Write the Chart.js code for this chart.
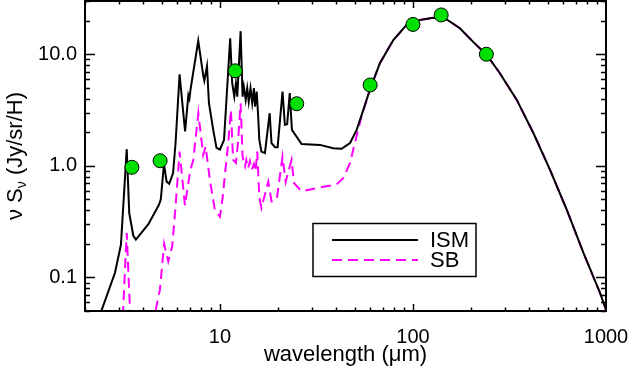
<!DOCTYPE html>
<html>
<head>
<meta charset="utf-8">
<script src="https://cdn.jsdelivr.net/npm/chart.js@4.4.1/dist/chart.umd.min.js"></script>
<style>
  html, body { margin: 0; padding: 0; background: #fff; }
</style>
</head>
<body>
<canvas id="sed" width="632" height="369"></canvas>
<script>
// spectre ISM (trait noir)
const ismWave = [2.42, 2.86, 3.07, 3.29, 3.39, 3.56, 3.67, 4.26, 4.83, 4.94, 5.13, 5.29, 5.46, 5.72, 5.89, 6.18, 6.6,
  6.86, 6.95, 7.05, 7.72, 8.19, 8.3, 8.57, 8.77, 9.23, 9.6, 10.0, 10.5, 11.3, 11.58, 11.87, 12.1, 12.3, 12.8,
  13.1, 13.3, 13.6, 13.85, 14.1, 14.4, 14.7, 15.0, 15.2, 15.5, 15.75, 16.0, 16.4, 17.1, 18.1, 18.5, 19.3, 19.9,
  21.1, 21.7, 22.3, 23.0, 23.6, 26.5, 33, 38.6, 42.7, 47.2, 51.1, 55.3, 59.8, 67.4, 79.1, 92.7, 108.7, 127,
  149.5, 175, 205, 241, 282, 345, 421, 513, 626, 764, 931, 1000];
const ismFlux = [0.049, 0.11, 0.196, 1.41, 0.377, 0.236, 0.218, 0.30, 0.448, 0.50, 1.04, 0.724, 0.69, 0.86, 1.60, 6.6, 2.03,
  4.3, 4.0, 4.9, 13.2, 6.5, 5.8, 7.85, 3.66, 2.1, 1.45, 1.40, 1.7, 13.9, 5.5, 4.17, 5.5, 4.17, 16.1,
  4.17, 5.12, 3.9, 4.96, 3.76, 4.96, 3.64, 4.96, 3.4, 4.62, 2.96, 1.71, 1.34, 1.30, 2.96, 1.60, 1.47, 1.47,
  4.62, 2.33, 2.36, 4.48, 2.10, 1.57, 1.54, 1.44, 1.42, 1.60, 2.10, 3.17, 4.79, 8.30, 13.4, 18.3, 20.3, 21.2,
  20.5, 17.1, 12.9, 9.84, 6.76, 3.90, 1.96, 0.921, 0.404, 0.166, 0.0726, 0.0514];

// spectre SB (tirets magenta)
const sbWave = [3.14, 3.29, 3.43, 4.0, 4.58, 4.89, 5.14, 5.40, 5.66, 5.89, 6.18, 6.59, 7.0, 7.28, 7.73, 8.19, 8.43,
  8.87, 9.42, 10.0, 10.3, 11.04, 11.4, 11.7, 12.1, 12.4, 12.8, 13.1, 13.5, 13.7, 14.0, 14.3, 14.6, 15.0, 15.3,
  15.6, 16.0, 16.4, 17.8, 18.5, 19.7, 21.1, 21.9, 23.5, 24.2, 26.5, 33, 40.2, 43.6, 47.2, 50, 54.1, 59.8,
  67.4, 79.1, 92.7, 108.7, 127, 149.5, 175, 205, 241, 282, 345, 421, 513, 626, 764, 931, 1000];
const sbFlux = [0.045, 0.25, 0.045, 0.01, 0.045, 0.078, 0.20, 0.139, 0.19, 0.43, 1.34, 0.44, 0.89, 1.13, 2.96, 1.25, 1.49,
  0.75, 0.40, 0.35, 0.50, 1.60, 3.17, 1.13, 1.06, 1.60, 3.64, 1.21, 0.99, 1.13, 0.95, 1.10, 0.92, 1.04, 0.89,
  1.34, 0.53, 0.42, 0.72, 0.48, 0.50, 1.21, 0.72, 1.13, 0.70, 0.59, 0.64, 0.68, 0.78, 1.06, 1.60, 2.76, 4.79,
  8.30, 13.4, 18.3, 20.3, 21.2, 20.5, 17.1, 12.9, 9.84, 6.76, 3.90, 1.96, 0.921, 0.404, 0.166, 0.0726, 0.0514];

// photometrie (ronds verts)
const obsWave = [3.5, 4.9, 12, 25, 60, 100, 140, 240];
const obsFlux = [0.97, 1.11, 7.1, 3.6, 5.3, 18.5, 22.5, 10.0];

const xMajor = [10, 100, 1000];
const yMajor = [0.1, 1, 10];
const legendNames = ['ISM', 'SB'];

const FONT = "'Liberation Sans', Arial, Helvetica, sans-serif";

function toPoints(xs, ys) {
  return xs.map((v, i) => ({x: v, y: ys[i]}));
}

// petites graduations entre les decades
function minorTicks(lo, hi) {
  let res = [];
  for (let d = Math.pow(10, Math.floor(Math.log10(lo))); d < hi; d *= 10) {
    for (let k = 1; k < 10; k++) {
      let v = +(k * d).toPrecision(3);
      if (v >= lo && v <= hi) res.push(v);
    }
  }
  return res;
}

// cadre + graduations vers l'interieur, legende et titre vertical
const idlFrame = {
  id: 'idlFrame',
  afterDatasetsDraw(chart) {
    const {ctx, chartArea: a, scales: {x, y}} = chart;
    ctx.save();
    ctx.strokeStyle = '#000';
    ctx.lineWidth = 1.5;
    ctx.beginPath();
    minorTicks(2, 1000).forEach(v => {
      const px = Math.round(x.getPixelForValue(v)) + 0.5;
      const len = xMajor.includes(v) ? 7 : 3.5;
      ctx.moveTo(px, a.bottom); ctx.lineTo(px, a.bottom - len);
      ctx.moveTo(px, a.top); ctx.lineTo(px, a.top + len);
    });
    minorTicks(0.05, 30).forEach(v => {
      const py = Math.round(y.getPixelForValue(v)) + 0.5;
      const len = yMajor.includes(v) ? 10 : 5;
      ctx.moveTo(a.left, py); ctx.lineTo(a.left + len, py);
      ctx.moveTo(a.right, py); ctx.lineTo(a.right - len, py);
    });
    ctx.stroke();
    ctx.lineWidth = 2;
    ctx.strokeRect(a.left, a.top, a.right - a.left, a.bottom - a.top);

    // legende
    ctx.lineWidth = 1.5;
    ctx.strokeRect(313, 223.5, 163, 53);
    const rows = [240, 260];
    legendNames.forEach((name, i) => {
      const ds = chart.data.datasets[i + 1];
      ctx.strokeStyle = ds.borderColor;
      ctx.lineWidth = ds.borderWidth;
      ctx.setLineDash(ds.borderDash || []);
      ctx.beginPath();
      ctx.moveTo(332, rows[i]);
      ctx.lineTo(418, rows[i]);
      ctx.stroke();
      ctx.setLineDash([]);
      ctx.fillStyle = '#000';
      ctx.font = '22px ' + FONT;
      ctx.textBaseline = 'alphabetic';
      ctx.fillText(name, 430, rows[i] + 7);
    });

    // titre de l'axe y avec indice
    const parts = [
      {t: 'ν S', f: '22px ' + FONT, dy: 0},
      {t: 'ν', f: '14px ' + FONT, dy: 4},
      {t: ' (Jy/sr/H)', f: '22px ' + FONT, dy: 0},
    ];
    let w = 0;
    parts.forEach(p => { ctx.font = p.f; p.w = ctx.measureText(p.t).width; w += p.w; });
    ctx.translate(22, (a.top + a.bottom) / 2);
    ctx.rotate(-Math.PI / 2);
    let cx = -w / 2;
    parts.forEach(p => {
      ctx.font = p.f;
      ctx.fillText(p.t, cx, p.dy);
      cx += p.w;
    });
    ctx.restore();
  }
};

new Chart(document.getElementById('sed'), {
  type: 'line',
  data: {
    datasets: [
      {
        label: 'obs',
        data: toPoints(obsWave, obsFlux),
        showLine: false,
        pointRadius: 7,
        pointBackgroundColor: '#00e000',
        pointBorderColor: '#000',
        pointBorderWidth: 1,
      },
      {
        label: legendNames[0],
        data: toPoints(ismWave, ismFlux),
        borderColor: '#000',
        borderWidth: 2,
        pointRadius: 0,
        tension: 0,
      },
      {
        label: legendNames[1],
        data: toPoints(sbWave, sbFlux),
        borderColor: '#ff00ff',
        borderWidth: 2,
        borderDash: [10, 6],
        pointRadius: 0,
        tension: 0,
      },
    ]
  },
  options: {
    responsive: false,
    animation: false,
    devicePixelRatio: 1,
    layout: {autoPadding: false, padding: {top: 1, right: 26, left: 0, bottom: 0}},
    plugins: {legend: {display: false}, tooltip: {enabled: false}},
    scales: {
      x: {
        type: 'logarithmic',
        min: 2,
        max: 1000,
        grid: {display: false, drawTicks: false},
        border: {display: false},
        afterBuildTicks: s => { s.ticks = xMajor.map(v => ({value: v})); },
        afterFit: s => { s.height = 58; s.paddingLeft = 0; s.paddingRight = 0; },
        ticks: {
          color: '#000',
          font: {family: FONT, size: 20},
          padding: 14,
          maxRotation: 0,
          autoSkip: false,
          callback: v => String(v),
        },
        title: {
          display: true,
          text: 'wavelength (μm)',
          color: '#000',
          font: {family: FONT, size: 22},
          padding: {top: 0, bottom: 1},
        },
      },
      y: {
        type: 'logarithmic',
        min: 0.05,
        max: 30,
        grid: {display: false, drawTicks: false},
        border: {display: false},
        afterBuildTicks: s => { s.ticks = yMajor.map(v => ({value: v})); },
        afterFit: s => { s.width = 85; s.paddingTop = 0; s.paddingBottom = 0; },
        ticks: {
          color: '#000',
          font: {family: FONT, size: 20},
          padding: 8,
          autoSkip: false,
          callback: v => v.toFixed(1),
        },
      },
    },
  },
  plugins: [idlFrame],
});
</script>
</body>
</html>
